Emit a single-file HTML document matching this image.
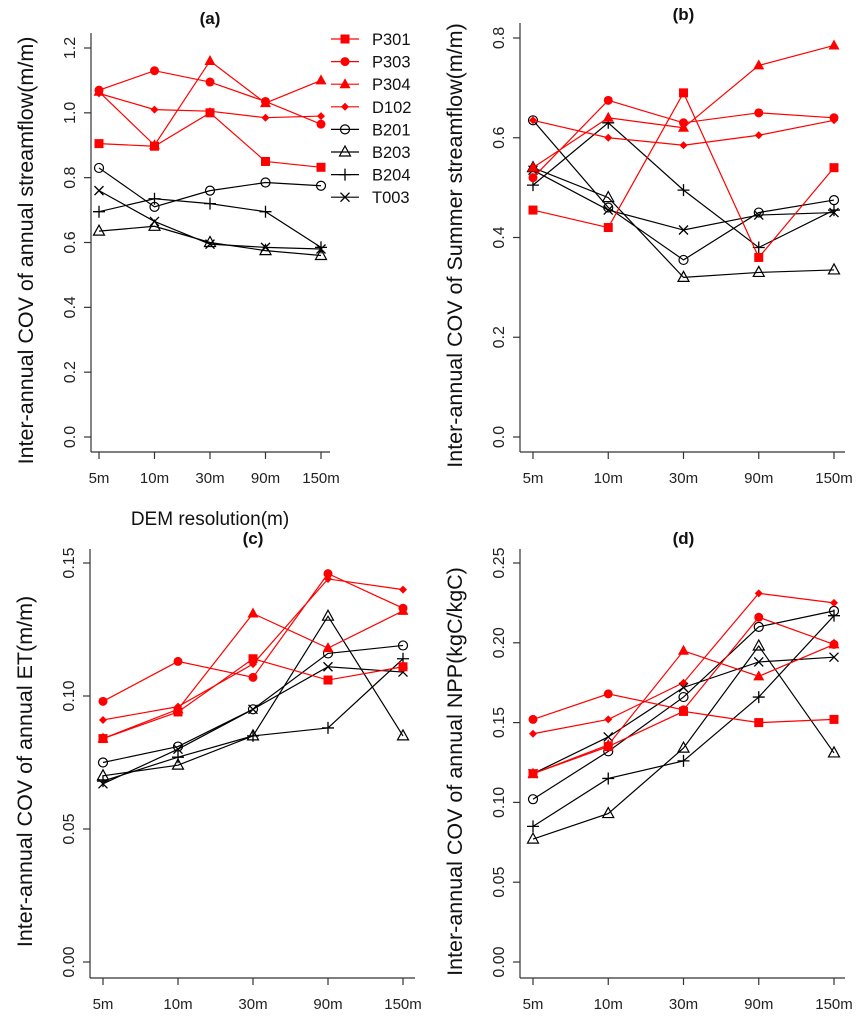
<!DOCTYPE html>
<html><head><meta charset="utf-8"><style>
body{margin:0;background:#fff;}
svg{display:block;font-family:"Liberation Sans",Arial,sans-serif;}
</style></head><body>
<svg id="fig" width="865" height="1024" viewBox="0 0 865 1024"></svg>
<script>
const categories=["5m","10m","30m","90m","150m"];
const seriesNames=["P301","P303","P304","D102","B201","B203","B204","T003"];
const seriesColors=["red","red","red","red","black","black","black","black"];
const seriesShapes=["square","circle","triangle","diamond","ocircle","otriangle","plus","cross"];
// panel a
const aP301=[0.905,0.897,1.0,0.85,0.832];
const aP303=[1.07,1.13,1.095,1.035,0.965];
const aP304=[1.065,0.9,1.16,1.03,1.10];
const aD102=[1.06,1.01,1.005,0.985,0.99];
const aB201=[0.83,0.71,0.76,0.785,0.775];
const aB203=[0.635,0.65,0.60,0.575,0.56];
const aB204=[0.695,0.735,0.72,0.695,0.585];
const aT003=[0.76,0.665,0.595,0.585,0.58];
const aTicks=[0,0.2,0.4,0.6,0.8,1.0,1.2];
const aTickLabels=["0.0","0.2","0.4","0.6","0.8","1.0","1.2"];
// panel b
const bP301=[0.455,0.42,0.69,0.36,0.54];
const bP303=[0.52,0.675,0.63,0.65,0.64];
const bP304=[0.54,0.64,0.62,0.745,0.785];
const bD102=[0.635,0.60,0.585,0.605,0.635];
const bB201=[0.635,0.46,0.355,0.45,0.475];
const bB203=[0.54,0.48,0.32,0.33,0.335];
const bB204=[0.505,0.63,0.495,0.38,0.455];
const bT003=[0.535,0.455,0.415,0.445,0.45];
const bTicks=[0,0.2,0.4,0.6,0.8];
const bTickLabels=["0.0","0.2","0.4","0.6","0.8"];
// panel c
const cP301=[0.084,0.094,0.114,0.106,0.111];
const cP303=[0.098,0.113,0.107,0.146,0.133];
const cP304=[0.084,0.095,0.131,0.118,0.132];
const cD102=[0.091,0.096,0.112,0.144,0.140];
const cB201=[0.075,0.081,0.095,0.116,0.119];
const cB203=[0.070,0.074,0.085,0.130,0.085];
const cB204=[0.068,0.077,0.085,0.088,0.114];
const cT003=[0.067,0.080,0.095,0.111,0.109];
const cTicks=[0,0.05,0.10,0.15];
const cTickLabels=["0.00","0.05","0.10","0.15"];
// panel d
const dP301=[0.118,0.135,0.157,0.150,0.152];
const dP303=[0.152,0.168,0.158,0.216,0.199];
const dP304=[0.118,0.136,0.195,0.179,0.199];
const dD102=[0.143,0.152,0.175,0.231,0.225];
const dB201=[0.102,0.132,0.166,0.210,0.220];
const dB203=[0.077,0.093,0.134,0.198,0.131];
const dB204=[0.085,0.115,0.126,0.166,0.217];
const dT003=[0.118,0.141,0.172,0.188,0.191];
const dTicks=[0,0.05,0.10,0.15,0.20,0.25];
const dTickLabels=["0.00","0.05","0.10","0.15","0.20","0.25"];

const NS="http://www.w3.org/2000/svg";
const svg=document.getElementById('fig');
function mk(tag,attrs,parent){const e=document.createElementNS(NS,tag);for(const k in attrs)e.setAttribute(k,attrs[k]);(parent||svg).appendChild(e);return e;}

function marker(g,shape,x,y,col){
  const s=4.5;let m;
  if(shape==="square")m=mk('rect',{x:x-s,y:y-s,width:2*s,height:2*s,fill:col},g);
  else if(shape==="circle")m=mk('circle',{cx:x,cy:y,r:s,fill:col},g);
  else if(shape==="triangle")m=mk('polygon',{points:`${x},${y-6} ${x-5.5},${y+4} ${x+5.5},${y+4}`,fill:col},g);
  else if(shape==="diamond")m=mk('polygon',{points:`${x},${y-4} ${x+4},${y} ${x},${y+4} ${x-4},${y}`,fill:col},g);
  else if(shape==="ocircle")m=mk('circle',{cx:x,cy:y,r:s,fill:"none",stroke:col,"stroke-width":1.2},g);
  else if(shape==="otriangle")m=mk('polygon',{points:`${x},${y-6} ${x-5.5},${y+4} ${x+5.5},${y+4}`,fill:"none",stroke:col,"stroke-width":1.2},g);
  else if(shape==="plus")m=mk('path',{d:`M${x-6},${y}H${x+6}M${x},${y-6}V${y+6}`,stroke:col,"stroke-width":1.3},g);
  else m=mk('path',{d:`M${x-4.5},${y-4.5}L${x+4.5},${y+4.5}M${x+4.5},${y-4.5}L${x-4.5},${y+4.5}`,stroke:col,"stroke-width":1.3},g);
  
  
}

function panel(p){
  const g=mk('g',{});
  
  
  const yS=v=>p.y0+(v-p.ticks[0])/(p.ticks[p.ticks.length-1]-p.ticks[0])*(p.yTop-p.y0);
  const xS=i=>p.x0+i*(p.x1-p.x0)/(categories.length-1);
  const ya=mk('line',{x1:p.ax,y1:p.axTop,x2:p.ax,y2:p.axY,stroke:"#333","stroke-width":1.2},g);
  
  const xa=mk('line',{x1:p.ax,y1:p.axY,x2:p.axR,y2:p.axY,stroke:"#333","stroke-width":1.2},g);
  
  p.ticks.forEach((t,i)=>{
    const y=yS(t);
    mk('line',{x1:p.ax-7,y1:y,x2:p.ax,y2:y,stroke:"#333","stroke-width":1.2},g);
    const tx=mk('text',{x:0,y:0,transform:`translate(${p.ax-16},${y}) rotate(-90)`,"text-anchor":"middle","font-size":16,fill:"#222"},g);
    tx.textContent=p.tickLabels[i];
    
  });
  categories.forEach((c,i)=>{
    const x=xS(i);
    mk('line',{x1:x,y1:p.axY,x2:x,y2:p.axY+7,stroke:"#333","stroke-width":1.2},g);
    const tx=mk('text',{x:x,y:p.axY+31,"text-anchor":"middle","font-size":15,fill:"#222"},g);
    tx.textContent=c;
    
  });
  const yl=mk('text',{x:0,y:0,transform:`translate(${p.ax-58},${(p.axTop+p.axY)/2+8}) rotate(-90)`,"text-anchor":"middle","font-size":21.5,fill:"#111"},g);
  yl.textContent=p.ylabel;
  
  const tt=mk('text',{x:(p.x0+p.x1)/2,y:p.titleY,"text-anchor":"middle","font-size":17,"font-weight":"bold",fill:"#111"},g);
  tt.textContent=p.title;
  
  const order=[4,5,6,7,0,1,2,3];
  order.forEach(si=>{
    const vals=p.data[si];
    const pts=vals.map((v,i)=>`${xS(i)},${yS(v)}`).join(' ');
    const pl=mk('polyline',{points:pts,fill:"none",stroke:seriesColors[si],"stroke-width":1.2},g);
    
    
    vals.forEach((v,i)=>marker(g,seriesShapes[si],xS(i),yS(v),seriesColors[si]));
  });
}

panel({id:"a",title:"(a)",titleY:24,ylabel:"Inter-annual COV of annual streamflow(m/m)",ax:91,axTop:33,axY:452,axR:330,x0:99,x1:321,y0:437,yTop:48,ticks:aTicks,tickLabels:aTickLabels,data:[aP301,aP303,aP304,aD102,aB201,aB203,aB204,aT003]});
panel({id:"b",title:"(b)",titleY:20,ylabel:"Inter-annual COV of Summer streamflow(m/m)",ax:520,axTop:23,axY:452,axR:845,x0:533,x1:834,y0:437,yTop:38,ticks:bTicks,tickLabels:bTickLabels,data:[bP301,bP303,bP304,bD102,bB201,bB203,bB204,bT003]});
panel({id:"c",title:"(c)",titleY:544,ylabel:"Inter-annual COV of annual ET(m/m)",ax:90,axTop:549,axY:978,axR:415,x0:103,x1:403,y0:962,yTop:563,ticks:cTicks,tickLabels:cTickLabels,data:[cP301,cP303,cP304,cD102,cB201,cB203,cB204,cT003]});
panel({id:"d",title:"(d)",titleY:544,ylabel:"Inter-annual COV of annual NPP(kgC/kgC)",ax:520,axTop:549,axY:978,axR:845,x0:533,x1:834,y0:962,yTop:563,ticks:dTicks,tickLabels:dTickLabels,data:[dP301,dP303,dP304,dD102,dB201,dB203,dB204,dT003]});

const xt=mk('text',{x:210,y:525,"text-anchor":"middle","font-size":19,fill:"#111"});
xt.textContent="DEM resolution(m)";



const lg=mk('g',{});


seriesNames.forEach((n,i)=>{
  const y=39+i*22.6;
  const e=mk('g',{},lg);
  
  
  mk('line',{x1:331,y1:y,x2:359,y2:y,stroke:seriesColors[i],"stroke-width":1.2},e);
  marker(e,seriesShapes[i],345,y,seriesColors[i]);
  const t=mk('text',{x:372,y:y+6,"font-size":16.5,fill:"#111"},e);
  t.textContent=n;
});
</script>
</body></html>
